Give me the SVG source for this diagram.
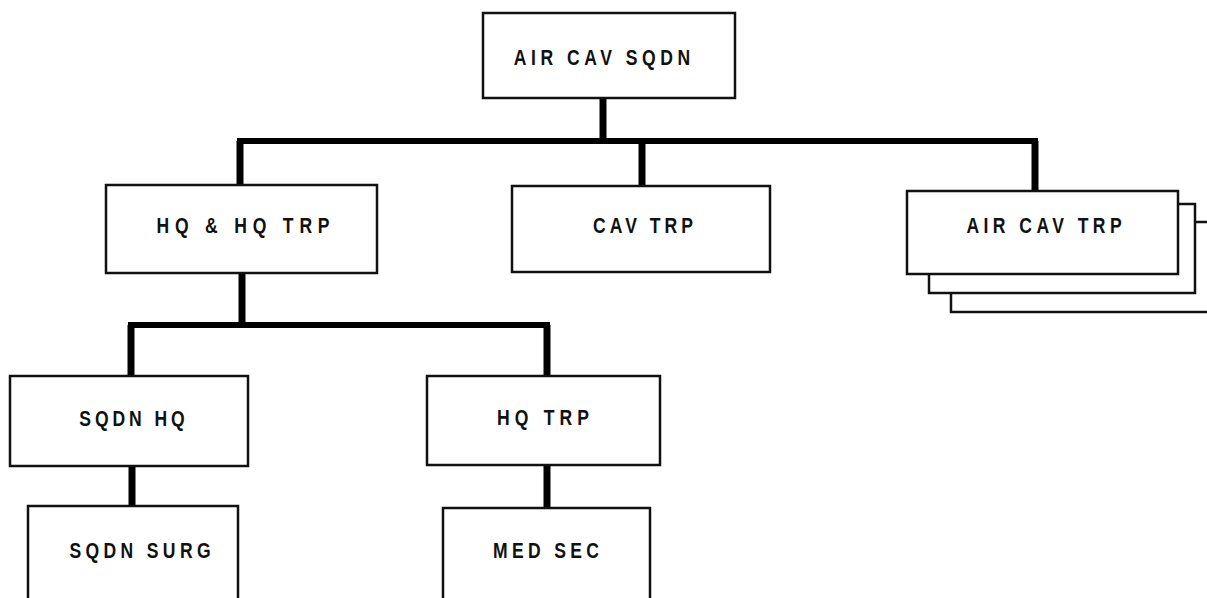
<svg xmlns="http://www.w3.org/2000/svg" width="1207" height="598" viewBox="0 0 1207 598">
<style>
.box{fill:#fff;stroke:#111;stroke-width:2.5}
.sh{fill:none;stroke:#111;stroke-width:2.5}
.lbl{font-family:"Liberation Sans",Arial,sans-serif;font-weight:bold;font-size:22.5px;fill:#111;text-anchor:middle}
.cv{stroke:#000;stroke-width:7;fill:none}
.ch{stroke:#000;stroke-width:6;fill:none;stroke-linecap:square}
</style>
<rect width="1207" height="598" fill="#fff"/>
<g id="connectors">
<line class="cv" x1="603" y1="98" x2="603" y2="141"/>
<line class="ch" x1="240" y1="141" x2="1035" y2="141"/>
<line class="cv" x1="240" y1="141" x2="240" y2="185"/>
<line class="cv" x1="642" y1="141" x2="642" y2="186"/>
<line class="cv" x1="1035" y1="141" x2="1035" y2="191"/>
<line class="cv" x1="242" y1="273" x2="242" y2="325"/>
<line class="ch" x1="131" y1="325" x2="547" y2="325"/>
<line class="cv" x1="131" y1="325" x2="131" y2="376"/>
<line class="cv" x1="547" y1="325" x2="547" y2="376"/>
<line class="cv" x1="132" y1="466" x2="132" y2="506"/>
<line class="cv" x1="547" y1="465" x2="547" y2="508"/>
</g>
<g id="air-cav-sqdn">
<rect class="box" x="483" y="13" width="252" height="85"/>
<text class="lbl" transform="translate(602 65) scale(0.78 1)" textLength="226" lengthAdjust="spacing">AIR CAV SQDN</text>
</g>
<g id="hq-hq-trp">
<rect class="box" x="106" y="185" width="271" height="88"/>
<text class="lbl" transform="translate(243 233) scale(0.78 1)" textLength="222" lengthAdjust="spacing">HQ &amp; HQ TRP</text>
</g>
<g id="cav-trp">
<rect class="box" x="512" y="186" width="258" height="86"/>
<text class="lbl" transform="translate(643 233) scale(0.78 1)" textLength="128" lengthAdjust="spacing">CAV TRP</text>
</g>
<g id="air-cav-trp">
<path class="sh" d="M1195,222 H1210 M951,293 V312 H1210"/>
<path class="sh" d="M1178,204 H1195 V293 H929 V274"/>
<rect class="box" x="907" y="191" width="271" height="83"/>
<text class="lbl" transform="translate(1044 233) scale(0.78 1)" textLength="199" lengthAdjust="spacing">AIR CAV TRP</text>
</g>
<g id="sqdn-hq">
<rect class="box" x="10" y="376" width="238" height="90"/>
<text class="lbl" transform="translate(132 426) scale(0.78 1)" textLength="135" lengthAdjust="spacing">SQDN HQ</text>
</g>
<g id="sqdn-surg">
<rect class="box" x="28" y="506" width="210" height="100"/>
<text class="lbl" transform="translate(140 558) scale(0.78 1)" textLength="181" lengthAdjust="spacing">SQDN SURG</text>
</g>
<g id="hq-trp">
<rect class="box" x="427" y="376" width="233" height="89"/>
<text class="lbl" transform="translate(543 425) scale(0.78 1)" textLength="118" lengthAdjust="spacing">HQ TRP</text>
</g>
<g id="med-sec">
<rect class="box" x="443" y="508" width="207" height="100"/>
<text class="lbl" transform="translate(546 558) scale(0.78 1)" textLength="136" lengthAdjust="spacing">MED SEC</text>
</g>
</svg>
